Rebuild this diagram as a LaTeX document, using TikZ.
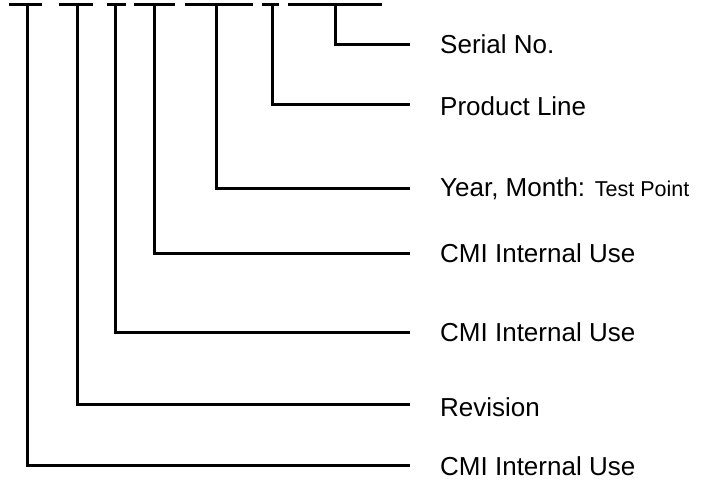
\documentclass[tikz,border=0pt]{standalone}
\usepackage{fontspec}
\setmainfont{Liberation Sans}
\begin{document}
\begin{tikzpicture}[x=1pt,y=-1pt,
  seg/.style={line width=3pt},
  conn/.style={line width=3pt,line join=miter},
  lbl/.style={anchor=west,inner sep=0pt,font=\fontsize{26}{30}\selectfont}]
\useasboundingbox (0,0) rectangle (703,483);
% top dashes
\draw[seg] (9,4) -- (42,4);
\draw[seg] (59,4) -- (93,4);
\draw[seg] (107,4) -- (126,4);
\draw[seg] (134,4) -- (175,4);
\draw[seg] (185,4) -- (253,4);
\draw[seg] (262,4) -- (279,4);
\draw[seg] (288,4) -- (382,4);
% labels
\node[lbl] (l1) at (440,44) {Serial No.};
\node[lbl] (l2) at (440,106) {Product Line};
\node[lbl] (l3) at (440,189) {Year, Month: {\fontsize{21.5}{24}\selectfont Test Point}};
\node[lbl] (l4) at (440,253) {CMI Internal Use};
\node[lbl] (l5) at (440,332) {CMI Internal Use};
\node[lbl] (l6) at (440,407) {Revision};
\node[lbl] (l7) at (440,466) {CMI Internal Use};
% end points
\coordinate (t1) at (335,4); \coordinate (e1) at (410,44);
\coordinate (t2) at (272,4); \coordinate (e2) at (410,104);
\coordinate (t3) at (216,4); \coordinate (e3) at (410,188);
\coordinate (t4) at (154,4); \coordinate (e4) at (410,253);
\coordinate (t5) at (115,4); \coordinate (e5) at (410,332);
\coordinate (t6) at (77,4);  \coordinate (e6) at (410,404);
\coordinate (t7) at (27,4);  \coordinate (e7) at (410,465);
\foreach \i in {1,...,7}{
  \draw[conn] (t\i) |- (e\i);
}
\end{tikzpicture}
\end{document}
